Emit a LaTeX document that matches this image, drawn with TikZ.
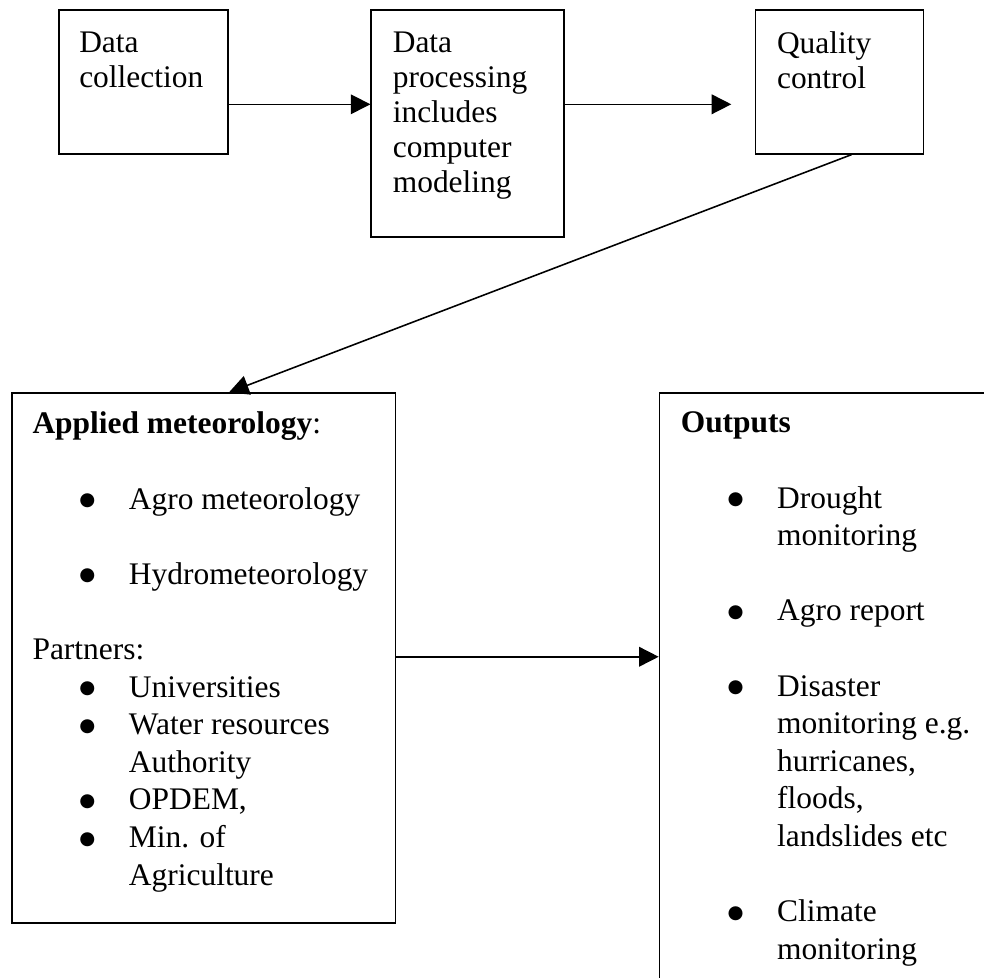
\documentclass[tikz,border=0pt]{standalone}
\usepackage{fontspec}
\setmainfont{Liberation Serif}
\newfontfamily\dotfont{DejaVu Sans}
\usetikzlibrary{arrows.meta,calc}

% bullet column and hanging indent of the lists
\newcommand{\bul}{\makebox[36.8pt][l]{\hspace{17.9pt}%
  {\dotfont\fontsize{7}{0}\selectfont\raisebox{1.3pt}{●}}}}
\newcommand{\ind}{\hspace*{36.8pt}}

\begin{document}
\begin{tikzpicture}[>={Triangle[length=7.5pt,width=7.5pt]},line width=.6pt,
    box/.style={draw,inner sep=0pt,anchor=north west},
    toptext/.style={inner sep=0pt,anchor=north west,align=left,
      font=\fontsize{12}{13.3}\selectfont},
    listtext/.style={inner sep=0pt,anchor=north west,align=left,
      font=\fontsize{12}{14.35}\selectfont}]
  \useasboundingbox (0,0) rectangle (13.2,-13.106);
  \clip (0,0) rectangle (13.2,-13.106);

  % top row of steps
  \node[box,minimum width=2.264cm,minimum height=1.932cm] (collect) at (0.783,-0.121) {};
  \node[box,minimum width=2.585cm,minimum height=3.045cm] (process) at (4.969,-0.121) {};
  \node[box,minimum width=2.256cm,minimum height=1.932cm] (quality) at (10.123,-0.121) {};
  \node[toptext] (collecttxt) at ($(collect.north west)+(0.27,-0.30)$) {Data\\collection};
  \node[toptext] (processtxt) at ($(process.north west)+(0.29,-0.30)$)
    {Data\\processing\\includes\\computer\\modeling};
  \node[toptext] (qualitytxt) at ($(quality.north west)+(0.29,-0.30)$) {Quality\\control};

  \coordinate (row) at (0,-1.399);
  \draw[->] (collect.east |- row) -- (process.west |- row);
  \draw[->,shorten >=0.313cm] (process.east |- row) -- (quality.west |- row);

  % lower boxes
  \node[box,minimum width=5.145cm,minimum height=7.106cm] (applied) at (0.148,-5.263) {};
  \node[box,minimum width=5cm,minimum height=8.5cm] (outputs) at (8.836,-5.263) {};

  \node[listtext] (appliedtxt) at ($(applied.north west)+(0.278,-0.255)$)
    {\textbf{Applied meteorology}:\\[14.35pt]
     \bul Agro meteorology\\[14.35pt]
     \bul Hydrometeorology\\[14.35pt]
     Partners:\\
     \bul Universities\\
     \bul Water resources\\
     \ind Authority\\
     \bul OPDEM,\\
     \bul Min. of\\
     \ind Agriculture};
  \node[listtext] (outputstxt) at ($(outputs.north west)+(0.286,-0.255)$)
    {\textbf{Outputs}\\[14.35pt]
     \bul Drought\\
     \ind monitoring\\[14.35pt]
     \bul Agro report\\[14.35pt]
     \bul Disaster\\
     \ind monitoring e.g.\\
     \ind hurricanes,\\
     \ind floods,\\
     \ind landslides etc\\[14.35pt]
     \bul Climate\\
     \ind monitoring};

  \draw[->] ($(quality.south west)!0.571!(quality.south east)$)
    -- ($(applied.north west)!0.566!(applied.north east)$);
  \coordinate (mid) at (0,-8.810);
  \draw[->] (applied.east |- mid) -- (outputs.west |- mid);
\end{tikzpicture}
\end{document}
